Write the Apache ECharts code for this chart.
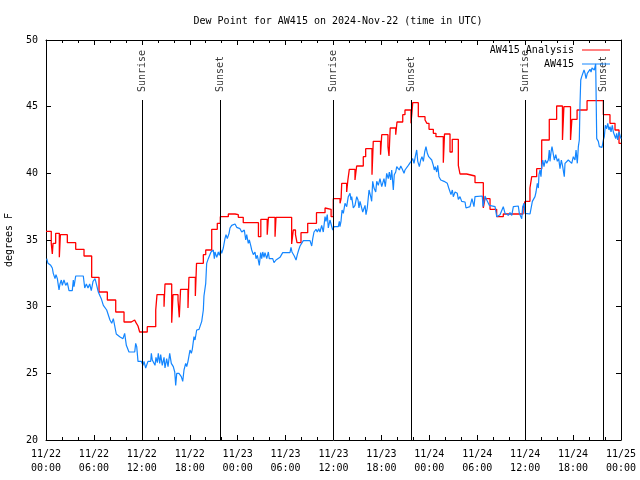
<!DOCTYPE html>
<html>
<head>
<meta charset="utf-8">
<script src="https://cdn.jsdelivr.net/npm/echarts@6/dist/echarts.min.js"></script>
<style>html,body{margin:0;padding:0;background:#fff}#c{width:640px;height:480px}</style>
</head>
<body>
<div id="c"></div>
<script>
// Hours since 2024-11-22 00:00 UTC
const xTickLabels = ['11/22\n00:00','11/22\n06:00','11/22\n12:00','11/22\n18:00','11/23\n00:00','11/23\n06:00','11/23\n12:00','11/23\n18:00','11/24\n00:00','11/24\n06:00','11/24\n12:00','11/24\n18:00','11/25\n00:00'];

const redHours = [0,0.66,0.79,0.88,1.21,1.67,1.80,2.67,3.72,4.76,5.72,6.64,7.68,8.73,9.77,10.68,11.1,11.27,11.52,11.73,12.68,13.74,13.9,14.78,14.9,15.74,15.9,16.53,16.69,16.85,17.78,17.9,18.7,18.85,19.7,20.0,20.75,21.45,21.83,22.83,23.67,24.08,24.7,26.6,26.9,27.7,27.85,28.68,28.8,30.76,30.97,31.24,31.43,31.93,32.77,33.87,34.94,35.19,35.7,35.98,36.82,36.95,37.03,37.65,37.8,37.98,38.69,38.9,39.73,40.03,40.82,40.98,41.89,42.04,42.82,42.95,43.1,43.79,43.95,44.67,44.95,45.7,45.85,45.92,46.62,47.46,47.7,47.96,48.5,48.83,49.75,49.9,50.59,50.87,51.63,51.84,52.68,53.72,54.76,54.97,55.6,56.43,57.26,59.73,59.98,60.6,60.82,61.44,62.07,63.02,63.94,64.67,64.85,65.68,65.85,66.5,67.75,69.79,70.62,71.25,71.75,72];
const redValues = [35.65,34.75,33.95,34.75,35.5,33.7,35.4,34.8,34.3,33.8,32.2,31.1,30.5,29.6,28.85,29.0,29.1,28.8,28.55,28.1,28.5,29.75,30.9,30.0,31.7,28.8,30.9,30.5,29.2,31.3,29.9,32.2,30.8,33.25,33.9,34.25,35.8,36.25,36.75,36.95,36.9,36.7,36.3,35.25,36.55,35.4,36.7,35.25,36.7,34.7,35.75,35.4,34.8,35.55,36.25,37.05,37.4,37.3,36.75,38.1,37.75,38.1,39.25,38.6,39.5,40.3,39.5,40.55,41.25,41.85,39.9,42.4,41.4,42.9,42.0,41.3,43.4,42.9,43.85,44.4,44.75,43.75,44.75,45.3,44.25,44.0,43.75,43.3,43.0,42.75,40.8,42.95,41.6,42.55,40.6,39.95,39.8,39.3,37.4,38.1,37.3,36.75,36.95,37.4,37.9,38.9,39.75,40.35,42.5,44.05,45.05,42.5,45.0,42.5,44.05,44.75,45.45,44.4,43.75,43.25,42.25,42.25];

const blueHours = [0.09,0.25,0.38,0.59,0.79,0.91,1.13,1.25,1.42,1.63,1.75,1.92,2.04,2.25,2.47,2.67,2.88,3.09,3.29,3.42,3.51,3.72,4.67,4.85,5.05,5.26,5.47,5.67,5.89,6.14,6.35,6.55,6.76,6.92,7.18,7.39,7.60,7.80,8.01,8.23,8.43,8.60,8.80,9.02,9.23,9.43,9.64,9.85,10.06,10.39,11.11,11.23,11.36,11.52,11.73,11.93,12.15,12.27,12.48,12.68,12.77,13.11,13.19,13.31,13.52,13.65,13.77,13.94,14.06,14.24,14.36,14.56,14.78,14.90,15.11,15.28,15.49,15.69,15.94,16.12,16.24,16.37,16.65,16.78,16.94,17.12,17.28,17.49,17.62,17.78,18.03,18.20,18.32,18.53,18.66,18.87,19.16,19.50,19.70,19.78,20.00,20.12,20.32,20.54,20.66,20.75,20.95,21.08,21.16,21.38,21.58,21.70,21.88,22.00,22.20,22.41,22.54,22.70,22.92,23.04,23.25,23.45,23.67,23.88,24.08,24.29,24.51,24.71,24.83,25.01,25.13,25.33,25.46,25.63,25.76,25.88,25.96,26.17,26.30,26.46,26.58,26.71,26.88,27.01,27.14,27.30,27.42,27.64,27.84,27.96,28.14,28.39,28.55,28.80,28.96,29.30,29.64,30.55,30.68,30.80,30.97,31.09,31.31,31.47,31.64,31.81,32.02,32.22,33.06,33.27,33.40,33.56,33.81,33.97,34.15,34.31,34.52,34.72,34.94,35.06,35.22,35.35,35.56,35.78,35.90,36.06,36.60,36.73,36.81,36.94,37.07,37.23,37.44,37.65,37.85,38.07,38.19,38.28,38.48,38.69,38.91,39.07,39.19,39.32,39.53,39.66,39.73,39.95,40.07,40.23,40.45,40.66,40.78,40.91,41.07,41.29,41.41,41.61,41.82,42.04,42.16,42.32,42.49,42.66,42.86,42.99,43.16,43.29,43.49,43.61,43.79,43.92,44.12,44.24,44.42,44.62,44.83,44.95,45.17,45.37,45.58,45.71,45.92,46.08,46.24,46.42,46.55,46.75,46.92,47.08,47.25,47.42,47.58,47.75,47.92,48.08,48.30,48.50,48.62,48.75,48.92,49.05,49.21,49.43,49.63,49.84,50.09,50.25,50.43,50.59,50.71,50.88,51.00,51.22,51.34,51.50,51.63,51.84,52.05,52.25,52.47,52.59,53.09,53.34,53.59,53.72,53.93,54.63,54.72,54.85,54.97,55.19,55.39,55.51,55.69,56.23,56.44,56.64,56.85,57.06,57.26,57.48,57.69,57.89,58.10,58.32,58.52,59.14,59.27,59.48,59.57,59.69,59.86,59.98,60.61,60.73,60.90,61.02,61.23,61.36,61.52,61.65,61.73,61.86,61.98,62.07,62.20,62.36,62.52,62.70,62.90,63.02,63.11,63.24,63.36,63.53,63.65,63.83,64.03,64.20,64.36,64.53,64.70,64.90,64.99,65.20,65.40,65.62,65.83,66.03,66.24,66.37,66.53,66.66,66.78,66.87,66.96,67.08,67.28,67.37,67.50,67.62,67.78,67.96,68.12,68.25,68.37,68.53,68.66,68.75,68.83,68.96,69.16,69.29,69.46,69.62,69.79,69.91,70.04,70.21,70.34,70.50,70.63,70.75,70.91,71.04,71.21,71.34,71.46,71.59,71.75,71.87,72.00];
const blueValues = [33.6,33.25,33.4,33.1,32.9,32.5,32.1,32.4,32.1,31.25,31.7,32.0,31.6,32.0,31.6,31.8,31.2,31.2,31.2,32.0,31.5,32.3,32.3,31.4,31.7,31.4,31.7,31.2,31.9,32.1,31.6,31.1,31.1,30.6,30.1,30.1,29.75,29.6,29.0,28.75,29.1,29.25,27.95,27.95,27.75,27.9,27.6,28.0,27.1,26.6,26.6,27.25,27.0,25.9,25.8,25.9,25.6,25.9,25.4,25.4,25.9,25.9,26.5,26.0,26.1,25.6,26.2,25.8,26.5,25.75,26.4,25.6,26.2,25.4,26.1,25.5,26.5,25.75,25.5,25.1,24.1,25.0,25.0,24.9,24.75,24.4,25.25,25.75,25.5,25.9,26.75,26.5,26.8,27.75,27.5,28.25,28.3,28.9,29.75,30.8,31.75,33.25,33.6,33.65,34.1,34.0,34.25,33.6,34.1,33.7,34.1,33.85,34.25,34.0,34.4,35.1,35.4,35.1,35.5,35.9,36.1,36.25,36.2,35.95,35.9,35.85,35.6,35.45,35.75,35.0,35.4,34.75,35.0,34.6,34.25,34.1,33.9,34.1,33.6,33.85,33.5,33.1,34.05,33.6,34.1,33.7,34.05,33.6,34.1,33.6,33.7,33.6,33.3,33.5,33.6,33.7,34.05,34.05,34.45,34.1,34.2,33.8,33.5,33.9,34.25,34.55,34.6,34.95,34.95,34.55,35.1,35.6,35.8,35.6,35.85,35.6,36.1,35.6,36.75,36.4,36.9,35.9,36.5,36.6,35.75,36.0,36.0,36.4,36.0,36.4,37.25,37.0,37.75,37.5,38.25,38.5,38.0,38.25,37.4,37.6,38.25,38.0,37.4,37.9,37.75,37.1,37.0,37.6,36.9,37.4,38.75,38.25,37.9,39.4,38.9,38.6,39.4,39.1,39.6,39.0,38.9,39.6,39.0,40.0,39.6,40.1,39.5,40.25,38.75,39.9,40.1,40.5,40.4,40.25,40.55,40.3,40.0,40.25,40.3,40.6,40.5,40.9,41.1,40.75,41.25,41.75,40.9,40.5,41.0,41.25,40.9,41.6,42.0,41.5,41.25,41.3,41.0,40.6,40.25,40.5,40.1,40.6,39.75,39.5,39.6,39.4,39.25,39.25,38.9,38.75,38.4,38.75,38.25,38.6,38.75,38.5,38.05,38.25,37.9,38.0,37.85,37.4,37.5,38.1,37.5,38.25,38.3,38.3,37.5,37.6,38.3,38.0,38.1,37.6,37.5,37.5,36.75,36.75,36.9,36.8,37.5,37.0,37.1,36.85,37.05,36.85,37.5,37.55,37.0,36.95,36.6,37.5,37.75,37.0,36.95,37.1,37.9,37.75,38.25,38.6,39.25,38.9,39.9,40.25,39.75,40.5,41.0,40.5,41.0,40.75,41.0,41.75,40.9,41.6,42.0,41.9,41.0,41.4,40.9,41.1,40.35,41.0,40.5,39.75,40.75,40.6,41.0,41.0,40.75,41.25,41.0,41.75,40.75,42.0,42.5,45.25,47.0,47.25,47.4,47.75,47.5,47.1,47.5,47.6,47.8,47.6,47.9,48.0,47.75,48.0,48.2,42.6,42.4,42.0,42.1,41.95,42.5,42.75,43.6,43.35,43.75,43.25,43.5,43.1,43.6,43.1,43.2,42.6,43.0,42.5,43.1,43.0,42.6];

const sunriseHours = [12.1, 35.98, 59.98];
const sunsetHours = [21.8, 45.7, 69.75];
const sunLineTop = 45.5;
const sunLabelBase = 46.1;

const FONT = 'DejaVu Sans Mono';
const zip = (a, b) => a.map((v, i) => [v, b[i]]);

const sunLines = [];
sunriseHours.concat(sunsetHours).forEach(h => {
  sunLines.push([{ coord: [h, 20] }, { coord: [h, sunLineTop] }]);
});
const sunLabels = sunriseHours.map(h => ({ value: [h, sunLabelBase], name: 'Sunrise' }))
  .concat(sunsetHours.map(h => ({ value: [h, sunLabelBase], name: 'Sunset' })));

const chart = echarts.init(document.getElementById('c'), null, { renderer: 'canvas' });
chart.setOption({
  animation: false,
  backgroundColor: '#ffffff',
  title: {
    text: 'Dew Point for AW415 on 2024-Nov-22 (time in UTC)',
    left: 333, top: 11, textAlign: 'center',
    textStyle: { fontFamily: FONT, fontSize: 10, fontWeight: 'normal', color: '#000' }
  },
  legend: {
    data: ['AW415 Analysis', 'AW415'],
    orient: 'vertical', right: 30, top: 45, padding: 0,
    align: 'right', itemWidth: 28, itemHeight: 1, itemGap: 4, icon: 'rect',
    textStyle: { fontFamily: FONT, fontSize: 10, color: '#000', padding: [0, 3, 0, 0] }
  },
  grid: { left: 46, right: 19, top: 40, bottom: 40, show: false, containLabel: false, outerBoundsMode: 'none' },
  xAxis: [{
    type: 'value', min: 0, max: 72, interval: 6, position: 'bottom',
    axisLine: { show: true, onZero: false, lineStyle: { color: '#000', width: 1 } },
    axisTick: { show: true, inside: true, length: 5, lineStyle: { color: '#000' } },
    minorTick: { show: true, splitNumber: 3, length: 3, lineStyle: { color: '#000' } },
    splitLine: { show: false },
    axisLabel: {
      fontFamily: FONT, fontSize: 10, color: '#000', margin: 7, lineHeight: 14,
      formatter: v => xTickLabels[Math.round(v / 6)]
    }
  }, {
    type: 'value', min: 0, max: 72, interval: 6, position: 'top',
    axisLine: { show: true, onZero: false, lineStyle: { color: '#000', width: 1 } },
    axisTick: { show: true, inside: true, length: 5, lineStyle: { color: '#000' } },
    minorTick: { show: true, splitNumber: 3, length: 3, lineStyle: { color: '#000' } },
    splitLine: { show: false }, axisLabel: { show: false }
  }],
  yAxis: [{
    type: 'value', min: 20, max: 50, interval: 5, position: 'left',
    name: 'degrees F', nameLocation: 'middle', nameGap: 32, nameRotate: 90,
    nameTextStyle: { fontFamily: FONT, fontSize: 10, color: '#000' },
    axisLine: { show: true, onZero: false, lineStyle: { color: '#000', width: 1 } },
    axisTick: { show: true, inside: true, length: 5, lineStyle: { color: '#000' } },
    splitLine: { show: false },
    axisLabel: { fontFamily: FONT, fontSize: 10, color: '#000', margin: 8 }
  }, {
    type: 'value', min: 20, max: 50, interval: 5, position: 'right',
    axisLine: { show: true, onZero: false, lineStyle: { color: '#000', width: 1 } },
    axisTick: { show: true, inside: true, length: 5, lineStyle: { color: '#000' } },
    splitLine: { show: false }, axisLabel: { show: false }
  }],
  series: [
    {
      name: 'AW415 Analysis', type: 'line', step: 'end', showSymbol: false, symbol: 'none',
      data: zip(redHours, redValues),
      lineStyle: { color: '#ff0000', width: 1.3 }, itemStyle: { color: '#ff0000' },
      markLine: {
        silent: true, symbol: ['none', 'none'], label: { show: false },
        lineStyle: { color: '#000', width: 1, type: 'solid' },
        data: sunLines
      }
    },
    {
      name: 'AW415', type: 'line', showSymbol: false, symbol: 'none',
      data: zip(blueHours, blueValues),
      lineStyle: { color: '#1486ff', width: 1.2 }, itemStyle: { color: '#1486ff' }
    },
    {
      name: 'sun', type: 'scatter', symbolSize: 0, silent: true,
      data: sunLabels,
      label: {
        show: true, position: [0, 0], rotate: 90, align: 'left', verticalAlign: 'middle',
        formatter: p => p.name, fontFamily: FONT, fontSize: 10, color: '#000'
      }
    }
  ]
});
</script>
</body>
</html>
